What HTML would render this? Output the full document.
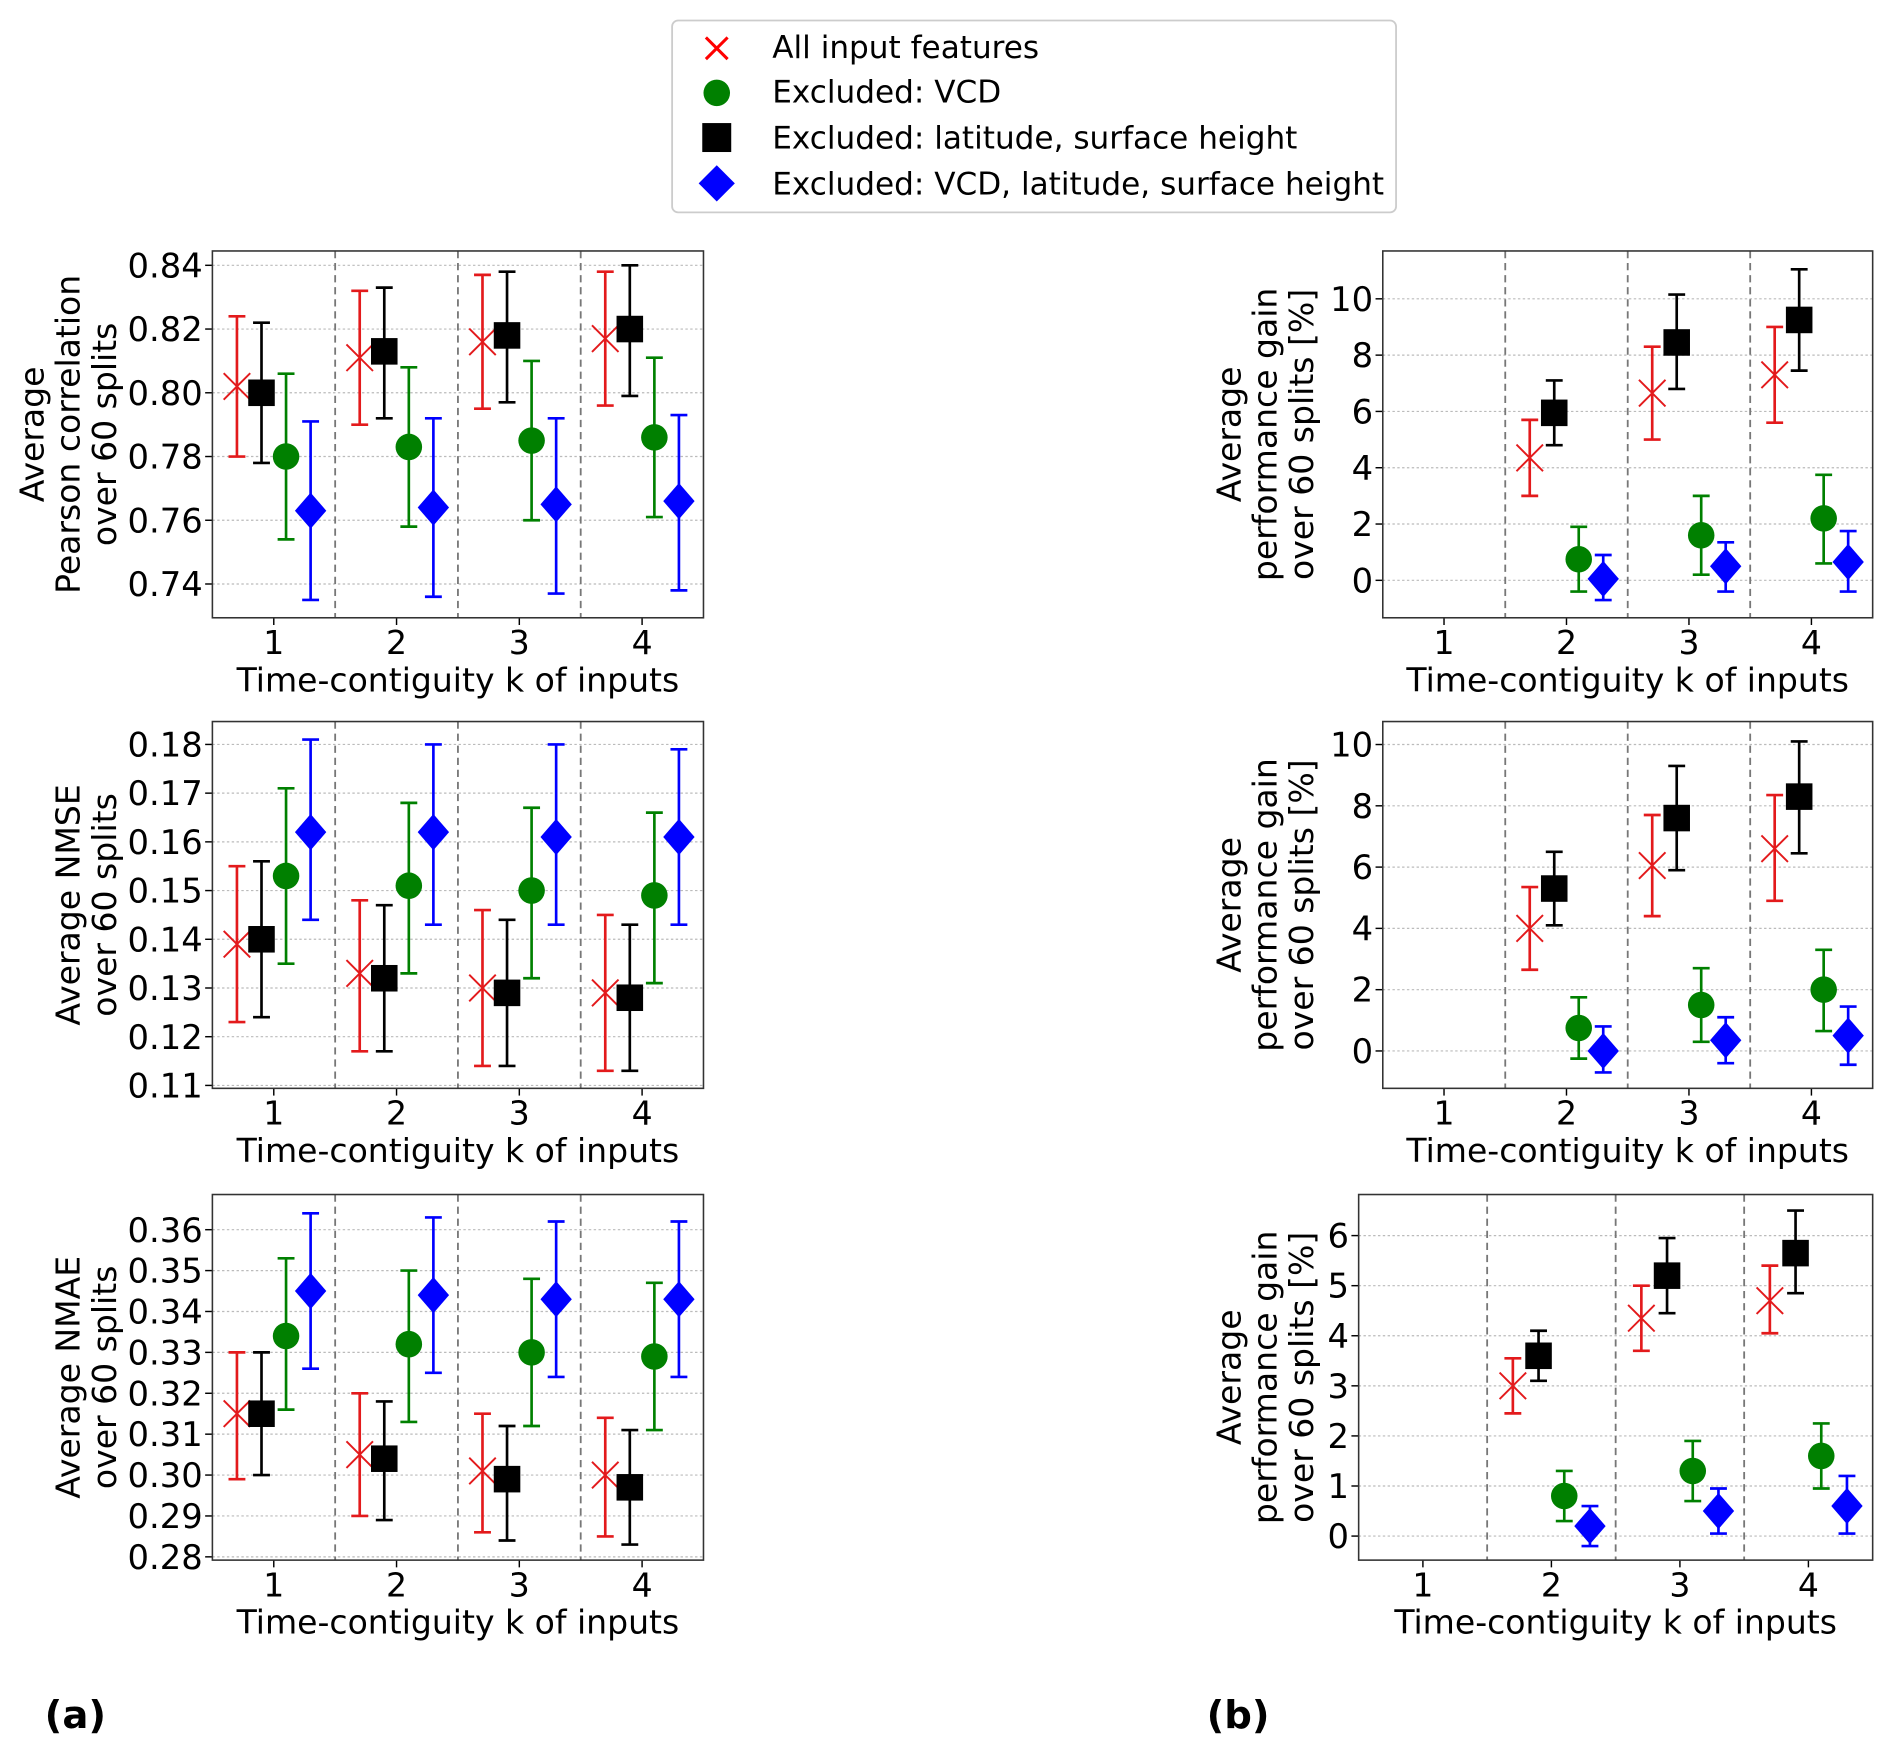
<!DOCTYPE html>
<html><head><meta charset="utf-8"><style>
html,body{margin:0;padding:0;background:#fff;}
svg{display:block;font-family:"DejaVu Sans","Liberation Sans",sans-serif;}
</style></head><body>
<svg id="fig" width="1892" height="1758" viewBox="0 0 1568 1457" xmlns="http://www.w3.org/2000/svg">
<g>
<rect x="557" y="17" width="600" height="159" rx="5" fill="#fff" stroke="#ccc" stroke-width="1.5"/>
<g><path d="M585 31 L603 49 M603 31 L585 49" stroke="#f00" stroke-width="2.5"/><text x="640" y="48" font-size="25.8">All input features</text></g>
<g><circle cx="594" cy="77" r="11" fill="green"/><text x="640" y="85" font-size="25.8">Excluded: VCD</text></g>
<g><rect x="582" y="102" width="24" height="24" fill="#000"/><text x="640" y="123" font-size="25.8">Excluded: latitude, surface height</text></g>
<g><path d="M594 137 L609 152 L594 167 L579 152Z" fill="#00f"/><text x="640" y="161" font-size="25.8">Excluded: VCD, latitude, surface height</text></g>
</g>
<text x="37" y="1432" font-size="32" font-weight="bold">(a)</text>
<text x="1000" y="1432" font-size="32" font-weight="bold">(b)</text>
</svg>
<script>
const categories=[1,2,3,4];
// Pearson
const p_red=[0.802,0.811,0.816,0.817], p_red_lo=[0.780,0.790,0.795,0.796], p_red_hi=[0.824,0.832,0.837,0.838];
const p_blk=[0.800,0.813,0.818,0.820], p_blk_lo=[0.778,0.792,0.797,0.799], p_blk_hi=[0.822,0.833,0.838,0.840];
const p_grn=[0.780,0.783,0.785,0.786], p_grn_lo=[0.754,0.758,0.760,0.761], p_grn_hi=[0.806,0.808,0.810,0.811];
const p_blu=[0.763,0.764,0.765,0.766], p_blu_lo=[0.735,0.736,0.737,0.738], p_blu_hi=[0.791,0.792,0.792,0.793];
const p_ticks=[0.74,0.76,0.78,0.80,0.82,0.84], p_ticklabels=["0.74","0.76","0.78","0.80","0.82","0.84"];
// NMSE
const s_red=[0.139,0.133,0.130,0.129], s_red_lo=[0.123,0.117,0.114,0.113], s_red_hi=[0.155,0.148,0.146,0.145];
const s_blk=[0.140,0.132,0.129,0.128], s_blk_lo=[0.124,0.117,0.114,0.113], s_blk_hi=[0.156,0.147,0.144,0.143];
const s_grn=[0.153,0.151,0.150,0.149], s_grn_lo=[0.135,0.133,0.132,0.131], s_grn_hi=[0.171,0.168,0.167,0.166];
const s_blu=[0.162,0.162,0.161,0.161], s_blu_lo=[0.144,0.143,0.143,0.143], s_blu_hi=[0.181,0.180,0.180,0.179];
const s_ticks=[0.11,0.12,0.13,0.14,0.15,0.16,0.17,0.18], s_ticklabels=["0.11","0.12","0.13","0.14","0.15","0.16","0.17","0.18"];
// NMAE
const a_red=[0.315,0.305,0.301,0.300], a_red_lo=[0.299,0.290,0.286,0.285], a_red_hi=[0.330,0.320,0.315,0.314];
const a_blk=[0.315,0.304,0.299,0.297], a_blk_lo=[0.300,0.289,0.284,0.283], a_blk_hi=[0.330,0.318,0.312,0.311];
const a_grn=[0.334,0.332,0.330,0.329], a_grn_lo=[0.316,0.313,0.312,0.311], a_grn_hi=[0.353,0.350,0.348,0.347];
const a_blu=[0.345,0.344,0.343,0.343], a_blu_lo=[0.326,0.325,0.324,0.324], a_blu_hi=[0.364,0.363,0.362,0.362];
const a_ticks=[0.28,0.29,0.30,0.31,0.32,0.33,0.34,0.35,0.36], a_ticklabels=["0.28","0.29","0.30","0.31","0.32","0.33","0.34","0.35","0.36"];
// Gain 1 (k=2..4)
const g1_red=[null,4.35,6.65,7.3], g1_red_lo=[null,3.0,5.0,5.6], g1_red_hi=[null,5.7,8.3,9.0];
const g1_blk=[null,5.95,8.45,9.25], g1_blk_lo=[null,4.8,6.8,7.45], g1_blk_hi=[null,7.1,10.15,11.05];
const g1_grn=[null,0.75,1.6,2.2], g1_grn_lo=[null,-0.4,0.2,0.6], g1_grn_hi=[null,1.9,3.0,3.75];
const g1_blu=[null,0.05,0.5,0.65], g1_blu_lo=[null,-0.7,-0.4,-0.4], g1_blu_hi=[null,0.9,1.35,1.75];
const g1_ticks=[0,2,4,6,8,10], g1_ticklabels=["0","2","4","6","8","10"];
// Gain 2
const g2_red=[null,4.0,6.05,6.6], g2_red_lo=[null,2.65,4.4,4.9], g2_red_hi=[null,5.35,7.7,8.35];
const g2_blk=[null,5.3,7.6,8.3], g2_blk_lo=[null,4.1,5.9,6.45], g2_blk_hi=[null,6.5,9.3,10.1];
const g2_grn=[null,0.75,1.5,2.0], g2_grn_lo=[null,-0.25,0.3,0.65], g2_grn_hi=[null,1.75,2.7,3.3];
const g2_blu=[null,0.0,0.35,0.5], g2_blu_lo=[null,-0.7,-0.4,-0.45], g2_blu_hi=[null,0.8,1.1,1.45];
const g2_ticks=[0,2,4,6,8,10], g2_ticklabels=["0","2","4","6","8","10"];
// Gain 3
const g3_red=[null,3.0,4.35,4.7], g3_red_lo=[null,2.45,3.7,4.05], g3_red_hi=[null,3.55,5.0,5.4];
const g3_blk=[null,3.6,5.2,5.65], g3_blk_lo=[null,3.1,4.45,4.85], g3_blk_hi=[null,4.1,5.95,6.5];
const g3_grn=[null,0.8,1.3,1.6], g3_grn_lo=[null,0.3,0.7,0.95], g3_grn_hi=[null,1.3,1.9,2.25];
const g3_blu=[null,0.2,0.5,0.6], g3_blu_lo=[null,-0.2,0.05,0.05], g3_blu_hi=[null,0.6,0.95,1.2];
const g3_ticks=[0,1,2,3,4,5,6], g3_ticklabels=["0","1","2","3","4","5","6"];

const NS="http://www.w3.org/2000/svg";
const svg=document.getElementById('fig');
function mk(tag,attrs,parent){const e=document.createElementNS(NS,tag);for(const k in attrs)e.setAttribute(k,attrs[k]);(parent||svg).appendChild(e);return e;}

function panel(cfg){
  const g=mk('g',{});
  
  
  const {x0,x1,y0,y1,ymin,ymax}=cfg;
  const X=v=>x0+(v-0.5)/4*(x1-x0);
  const Y=v=>y1-(v-ymin)/(ymax-ymin)*(y1-y0);
  cfg.ticks.forEach((t,i)=>{
    const gl=mk('line',{x1:x0,x2:x1,y1:Y(t),y2:Y(t),stroke:'#bbb','stroke-width':1,'stroke-dasharray':'2,2'},g);
    
    
    mk('line',{x1:x0-6,x2:x0,y1:Y(t),y2:Y(t),stroke:'#000','stroke-width':1.2},g);
    const tl=mk('text',{x:x0-8,y:Y(t)+10,'font-size':28,'text-anchor':'end'},g);
    tl.textContent=cfg.ticklabels[i];
    
    
  });
  [1.5,2.5,3.5].forEach(s=>{
    const d=mk('line',{x1:X(s),x2:X(s),y1:y0,y2:y1,stroke:'#777','stroke-width':1.5,'stroke-dasharray':'6,4'},g);
    
    
  });
  categories.forEach(c=>{
    mk('line',{x1:X(c),x2:X(c),y1:y1,y2:y1+6,stroke:'#000','stroke-width':1.2},g);
    const tl=mk('text',{x:X(c),y:y1+30,'font-size':27.4,'text-anchor':'middle'},g);
    tl.textContent=c;
    
    
  });
  const xl=mk('text',{x:(x0+x1)/2,y:y1+61,'font-size':27.4,'text-anchor':'middle'},g);
  xl.textContent='Time-contiguity k of inputs';
  
  
  const yl=mk('text',{transform:`translate(${cfg.ylx},${(y0+y1)/2}) rotate(-90)`,'font-size':27.4,'text-anchor':'middle'},g);
  
  
  cfg.ylines.forEach((ln,i)=>{const ts=mk('tspan',{x:0,dy:i==0?0:30},yl);ts.textContent=ln;});
  const series=[
    {v:cfg.s[0],lo:cfg.s[1],hi:cfg.s[2],off:-0.3,col:'#e31a1c',m:'x',n:'all-features'},
    {v:cfg.s[3],lo:cfg.s[4],hi:cfg.s[5],off:-0.1,col:'#000',m:'sq',n:'excl-lat'},
    {v:cfg.s[6],lo:cfg.s[7],hi:cfg.s[8],off:0.1,col:'green',m:'c',n:'excl-vcd'},
    {v:cfg.s[9],lo:cfg.s[10],hi:cfg.s[11],off:0.3,col:'#00f',m:'d',n:'excl-vcd-lat'}];
  series.forEach(s=>{
    s.v.forEach((v,i)=>{
      if(v===null)return;
      const cx=X(categories[i]+s.off), cy=Y(v), yl=Y(s.lo[i]), yh=Y(s.hi[i]);
      const eg=mk('g',{},g);
      
      
      mk('line',{x1:cx,x2:cx,y1:yl,y2:yh,stroke:s.col,'stroke-width':2.2},eg);
      mk('line',{x1:cx-7,x2:cx+7,y1:yl,y2:yl,stroke:s.col,'stroke-width':2.2},eg);
      mk('line',{x1:cx-7,x2:cx+7,y1:yh,y2:yh,stroke:s.col,'stroke-width':2.2},eg);
      let m;
      if(s.m=='x') m=mk('path',{d:`M${cx-11} ${cy-11}L${cx+11} ${cy+11}M${cx+11} ${cy-11}L${cx-11} ${cy+11}`,stroke:s.col,'stroke-width':1.6,fill:'none'},g);
      else if(s.m=='sq') m=mk('rect',{x:cx-11,y:cy-11,width:22,height:22,fill:s.col},g);
      else if(s.m=='c') m=mk('circle',{cx:cx,cy:cy,r:11,fill:s.col},g);
      else m=mk('path',{d:`M${cx} ${cy-15}L${cx+13} ${cy}L${cx} ${cy+15}L${cx-13} ${cy}Z`,fill:s.col},g);
      
      
    });
  });
  const fr=mk('rect',{x:x0,y:y0,width:x1-x0,height:y1-y0,fill:'none',stroke:'#333','stroke-width':1.3},g);
  
  
}
panel({name:'pearson-panel',x0:176,x1:583,y0:208,y1:512,ymin:0.7294,ymax:0.8445,ticks:p_ticks,ticklabels:p_ticklabels,ylx:36,ylines:['Average','Pearson correlation','over 60 splits'],
  s:[p_red,p_red_lo,p_red_hi,p_blk,p_blk_lo,p_blk_hi,p_grn,p_grn_lo,p_grn_hi,p_blu,p_blu_lo,p_blu_hi]});
panel({name:'nmse-panel',x0:176,x1:583,y0:598,y1:902,ymin:0.1094,ymax:0.1847,ticks:s_ticks,ticklabels:s_ticklabels,ylx:66,ylines:['Average NMSE','over 60 splits'],
  s:[s_red,s_red_lo,s_red_hi,s_blk,s_blk_lo,s_blk_hi,s_grn,s_grn_lo,s_grn_hi,s_blu,s_blu_lo,s_blu_hi]});
panel({name:'nmae-panel',x0:176,x1:583,y0:990,y1:1293,ymin:0.2792,ymax:0.3686,ticks:a_ticks,ticklabels:a_ticklabels,ylx:66,ylines:['Average NMAE','over 60 splits'],
  s:[a_red,a_red_lo,a_red_hi,a_blk,a_blk_lo,a_blk_hi,a_grn,a_grn_lo,a_grn_hi,a_blu,a_blu_lo,a_blu_hi]});
panel({name:'gain-pearson-panel',x0:1146,x1:1552,y0:208,y1:512,ymin:-1.33,ymax:11.7,ticks:g1_ticks,ticklabels:g1_ticklabels,ylx:1028,ylines:['Average','performance gain','over 60 splits [%]'],
  s:[g1_red,g1_red_lo,g1_red_hi,g1_blk,g1_blk_lo,g1_blk_hi,g1_grn,g1_grn_lo,g1_grn_hi,g1_blu,g1_blu_lo,g1_blu_hi]});
panel({name:'gain-nmse-panel',x0:1146,x1:1552,y0:598,y1:902,ymin:-1.22,ymax:10.75,ticks:g2_ticks,ticklabels:g2_ticklabels,ylx:1028,ylines:['Average','performance gain','over 60 splits [%]'],
  s:[g2_red,g2_red_lo,g2_red_hi,g2_blk,g2_blk_lo,g2_blk_hi,g2_grn,g2_grn_lo,g2_grn_hi,g2_blu,g2_blu_lo,g2_blu_hi]});
panel({name:'gain-nmae-panel',x0:1126,x1:1552,y0:990,y1:1293,ymin:-0.48,ymax:6.82,ticks:g3_ticks,ticklabels:g3_ticklabels,ylx:1028,ylines:['Average','performance gain','over 60 splits [%]'],
  s:[g3_red,g3_red_lo,g3_red_hi,g3_blk,g3_blk_lo,g3_blk_hi,g3_grn,g3_grn_lo,g3_grn_hi,g3_blu,g3_blu_lo,g3_blu_hi]});
</script>
</body></html>
